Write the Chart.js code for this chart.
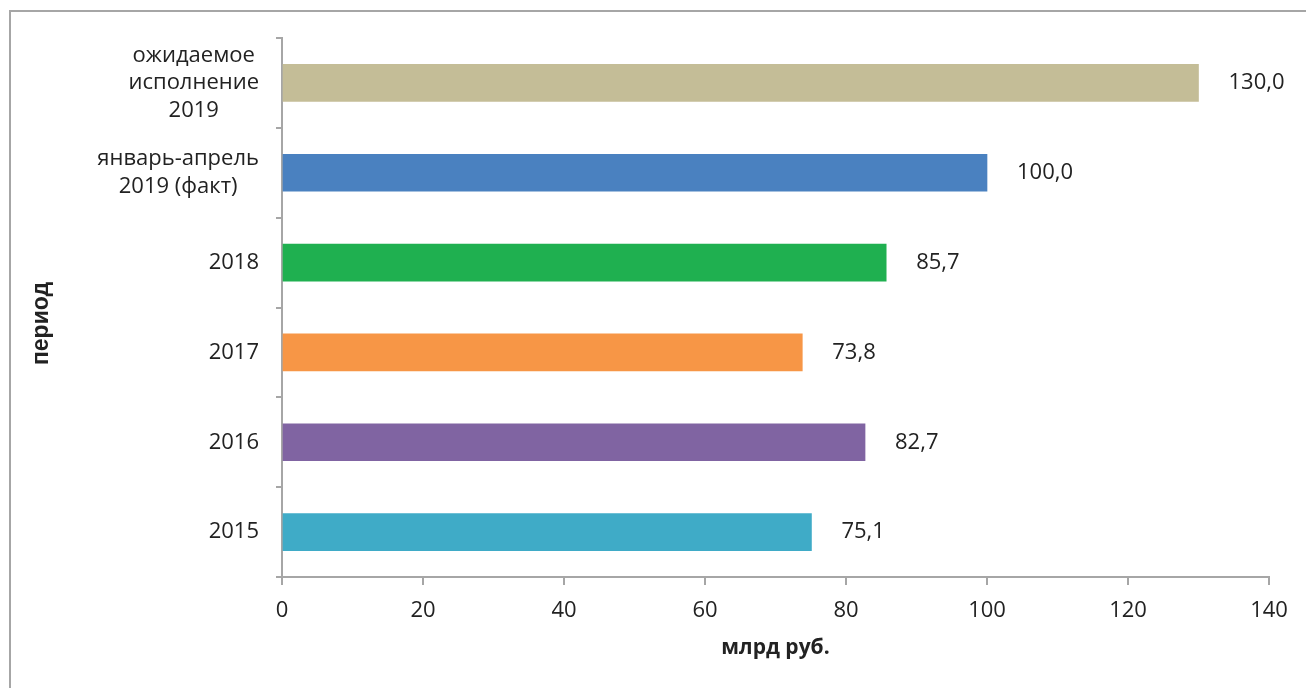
<!DOCTYPE html>
<html>
<head>
<meta charset="utf-8">
<script src="https://cdn.jsdelivr.net/npm/chart.js@4/dist/chart.umd.min.js"></script>
<style>
  html, body { margin: 0; padding: 0; background: #fff; overflow: hidden; }
  #wrap { position: relative; width: 1306px; height: 688px; }
  #frame { position: absolute; left: 9px; top: 10px; width: 2000px; height: 2000px;
           border-left: 2px solid #a6a6a6; border-top: 2px solid #a6a6a6; box-sizing: border-box; }
  canvas { position: absolute; left: 0; top: 0; }
</style>
</head>
<body>
<div id="wrap">
  <div id="frame"></div>
  <canvas id="c" width="1306" height="688"></canvas>
</div>
<script>
// ---- data ----
const categories = [
  ["ожидаемое", "исполнение", "2019"],
  ["январь-апрель", "2019 (факт)"],
  "2018",
  "2017",
  "2016",
  "2015"
];
const values = [130.0, 100.0, 85.7, 73.8, 82.7, 75.1];
const barColors = ["#C4BD97", "#4A81C0", "#1FB050", "#F79646", "#8064A2", "#3FABC7"];
const xMin = 0, xMax = 140, xStep = 20;
const xTitle = "млрд руб.";
const yTitle = "период";

// ---- styles ----
const TEXT = "#222222";
const AXIS = "#a6a6a6";
const FONT = "'Open Sans', 'DejaVu Sans', sans-serif";
const Y_TICK_LEN = 6, Y_LABEL_PAD = 17, LINE_H = 27.5;

const yLabelsPlugin = {
  id: 'yLabels',
  afterDraw(chart) {
    const ys = chart.scales.y;
    const ctx = chart.ctx;
    ctx.save();
    ctx.font = "22px " + FONT;
    ctx.fillStyle = TEXT;
    ctx.textBaseline = 'middle';
    ctx.textAlign = 'center';
    const rightEdge = ys.right - Y_TICK_LEN - Y_LABEL_PAD;
    categories.forEach((lab, i) => {
      const lines = Array.isArray(lab) ? lab : [lab];
      const w = Math.max(...lines.map(l => ctx.measureText(l).width));
      const cx = rightEdge - w / 2;
      const yc = ys.getPixelForValue(i);
      lines.forEach((l, j) => {
        ctx.fillText(l, cx, yc + (j - (lines.length - 1) / 2) * LINE_H);
      });
    });
    ctx.restore();
  }
};

const valueLabelsPlugin = {
  id: 'valueLabels',
  afterDatasetsDraw(chart) {
    const ctx = chart.ctx;
    const meta = chart.getDatasetMeta(0);
    ctx.save();
    ctx.font = "22px " + FONT;
    ctx.fillStyle = TEXT;
    ctx.textBaseline = 'middle';
    ctx.textAlign = 'left';
    meta.data.forEach((el, i) => {
      const txt = values[i].toFixed(1).replace('.', ',');
      ctx.fillText(txt, el.x + 30, el.y);
    });
    ctx.restore();
  }
};

new Chart(document.getElementById('c'), {
  type: 'bar',
  data: {
    labels: categories.map(c => Array.isArray(c) ? c.join(' ') : c),
    datasets: [{
      data: values,
      backgroundColor: barColors,
      borderWidth: 0,
      barThickness: 37
    }]
  },
  options: {
    indexAxis: 'y',
    responsive: false,
    animation: false,
    devicePixelRatio: 1,
    layout: { padding: { top: 38, right: 37, left: 0, bottom: 0 } },
    plugins: { legend: { display: false }, tooltip: { enabled: false } },
    scales: {
      x: {
        min: xMin, max: xMax,
        ticks: { stepSize: xStep, color: TEXT, font: { family: FONT, size: 22 }, padding: 13 },
        grid: { drawOnChartArea: false, drawTicks: true, tickLength: 8, color: AXIS, lineWidth: 2 },
        border: { color: AXIS, width: 2 },
        title: { display: true, text: xTitle, color: TEXT,
                 font: { family: FONT, size: 21, weight: 'bold' }, padding: { bottom: 27 } },
        afterFit(s) { s.height = 111; }
      },
      y: {
        ticks: { display: false },
        grid: { drawOnChartArea: false, drawTicks: true, tickLength: Y_TICK_LEN, color: AXIS, lineWidth: 2, offset: true },
        border: { color: AXIS, width: 2 },
        title: { display: true, text: yTitle + "     ", color: TEXT,
                 font: { family: "'Liberation Sans', Arial, sans-serif", size: 23, weight: 'bold' },
                 padding: { top: 28 } },
        afterFit(s) { s.width = 282; }
      }
    }
  },
  plugins: [yLabelsPlugin, valueLabelsPlugin]
});
</script>
</body>
</html>
